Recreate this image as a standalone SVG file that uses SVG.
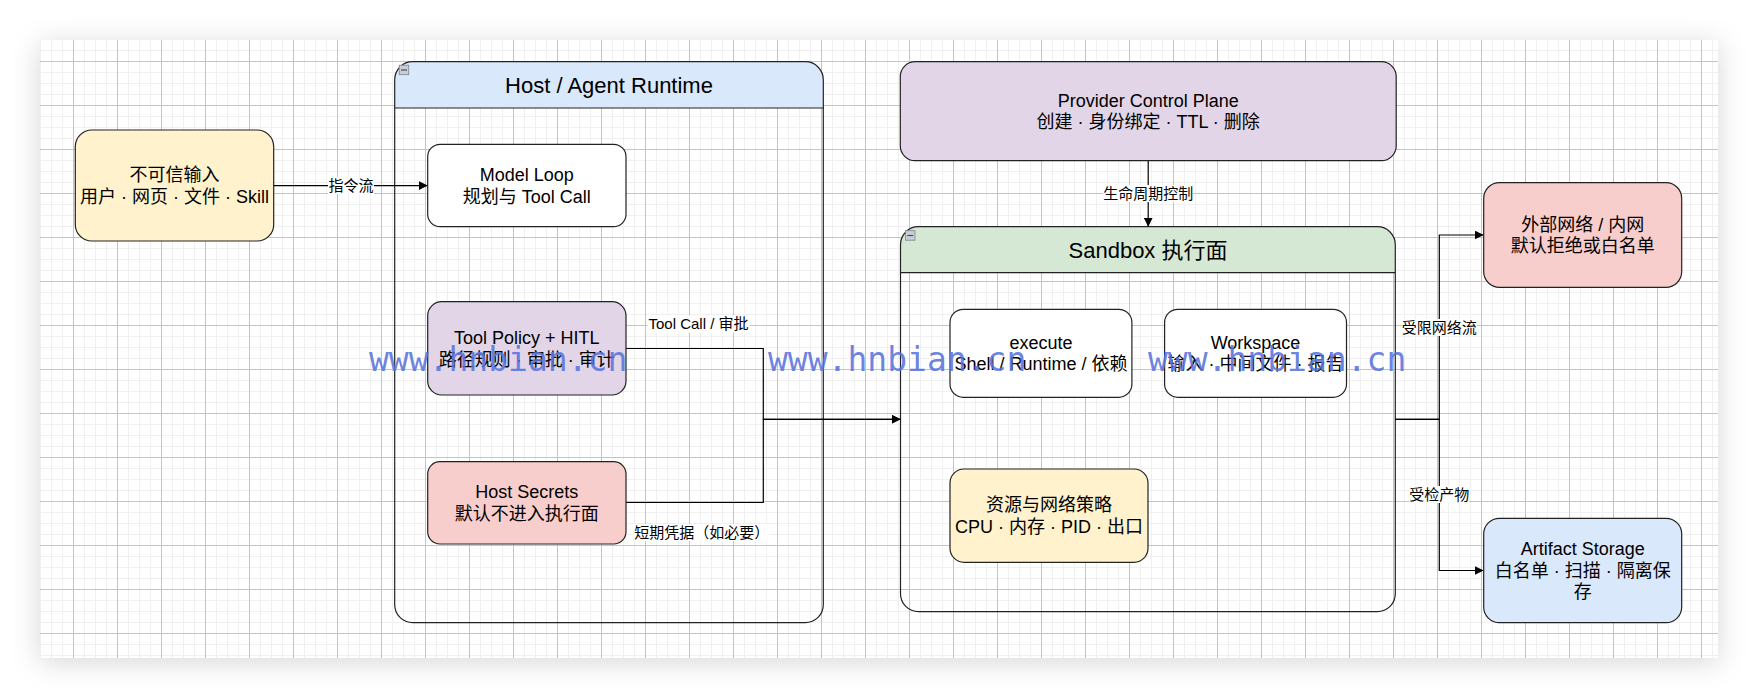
<svg xmlns="http://www.w3.org/2000/svg" width="1758" height="698" viewBox="0 0 1758 698">
<style>
.box{stroke:#222;stroke-width:1.2}
.cont{fill:none;stroke:#222;stroke-width:1.2}
.t{font-family:"Liberation Sans","Noto Sans CJK SC",sans-serif;font-size:18px;fill:#000;text-anchor:middle}
.title{font-size:22px}
.lbl{font-size:15px}
.lblbg{fill:#fff}
.edge{fill:none;stroke:#000;stroke-width:1.2}
.wm{font-family:"DejaVu Sans Mono","Liberation Mono",monospace;font-size:33px;fill:#5a74dc;fill-opacity:0.9}
.icon{fill:#c9cdd5;stroke:#7d8490;stroke-width:0.8}
</style>
<defs>
<pattern id="grid" patternUnits="userSpaceOnUse" x="29" y="17" width="44" height="44">
<rect width="44" height="44" fill="#fff"/>
<rect x="11" y="0" width="1" height="44" fill="#f0f0f0"/>
<rect x="22" y="0" width="1" height="44" fill="#f0f0f0"/>
<rect x="33" y="0" width="1" height="44" fill="#f0f0f0"/>
<rect x="0" y="11" width="44" height="1" fill="#f0f0f0"/>
<rect x="0" y="22" width="44" height="1" fill="#f0f0f0"/>
<rect x="0" y="33" width="44" height="1" fill="#f0f0f0"/>
<rect x="0" y="0" width="1" height="44" fill="#c4c4c4"/>
<rect x="0" y="0" width="44" height="1" fill="#c4c4c4"/>
</pattern>
<filter id="shadow" x="-10%" y="-10%" width="120%" height="125%">
<feGaussianBlur stdDeviation="14"/>
</filter>
<marker id="arrow" viewBox="0 0 10 10" refX="10" refY="5" markerWidth="9" markerHeight="9" markerUnits="userSpaceOnUse" orient="auto">
<path d="M0,0 L10,5 L0,10 Z" fill="#000"/>
</marker>
</defs>

<rect width="1758" height="698" fill="#fff"/>
<rect x="40" y="44" width="1678" height="618" fill="#000" fill-opacity="0.16" filter="url(#shadow)"/>
<rect x="40" y="40" width="1678" height="618" fill="url(#grid)"/>

<g id="host-runtime">
<path d="M394.7,108 V79.7 A18,18 0 0 1 412.7,61.7 H805.3 A18,18 0 0 1 823.3,79.7 V108 Z" fill="#dae8fc"/>
<rect class="cont" x="394.7" y="61.7" width="428.6" height="561" rx="18" ry="18"/>
<line x1="394.7" y1="108" x2="823.3" y2="108" stroke="#222" stroke-width="1.2"/>
<rect class="icon" x="399.2" y="65.2" width="9.5" height="9.5"/>
<line x1="401" y1="70" x2="407" y2="70" stroke="#4a4f58" stroke-width="1.2"/>
<text class="t title" x="609" y="92.7">Host / Agent Runtime</text>
</g>

<g id="sandbox">
<path d="M900.5,272.7 V244.7 A18,18 0 0 1 918.5,226.7 H1377.3 A18,18 0 0 1 1395.3,244.7 V272.7 Z" fill="#d5e8d4"/>
<rect class="cont" x="900.5" y="226.7" width="494.8" height="385" rx="18" ry="18"/>
<line x1="900.5" y1="272.7" x2="1395.3" y2="272.7" stroke="#222" stroke-width="1.2"/>
<rect class="icon" x="905.5" y="230.7" width="9.5" height="9.5"/>
<line x1="907.3" y1="235.5" x2="913.2" y2="235.5" stroke="#4a4f58" stroke-width="1.2"/>
<text class="t title" x="1148" y="257.6">Sandbox 执行面</text>
</g>

<g id="connectors">
<path class="edge" d="M273.7,185.6 H427.7" marker-end="url(#arrow)"/>
<path class="edge" d="M626,348.5 H763.3 V419.3 H900.5" marker-end="url(#arrow)"/>
<path class="edge" d="M626,502.5 H763.3 V419.3 H900.5" marker-end="url(#arrow)"/>
<path class="edge" d="M1148.2,160.7 V226.7" marker-end="url(#arrow)"/>
<path class="edge" d="M1395.3,419.3 H1439.3 V235 H1483.7" marker-end="url(#arrow)"/>
<path class="edge" d="M1395.3,419.3 H1439.3 V570.5 H1483.7" marker-end="url(#arrow)"/>
<rect class="lblbg" x="328" y="177" width="46" height="17"/>
<text class="t lbl" x="351" y="191">指令流</text>
<rect class="lblbg" x="1103" y="185" width="90" height="17"/>
<text class="t lbl" x="1148.2" y="199">生命周期控制</text>
<rect class="lblbg" x="647.5" y="315.5" width="102" height="17"/>
<text class="t lbl" x="698.5" y="329.4">Tool Call / 审批</text>
<rect class="lblbg" x="634" y="524" width="135" height="17"/>
<text class="t lbl" x="701.7" y="537.7">短期凭据（如必要）</text>
<rect class="lblbg" x="1401.8" y="319" width="75" height="17"/>
<text class="t lbl" x="1439.3" y="332.7">受限网络流</text>
<rect class="lblbg" x="1409.3" y="486" width="60" height="17"/>
<text class="t lbl" x="1439.3" y="500">受检产物</text>
</g>

<g id="untrusted-input">
<rect class="box" x="75.3" y="130" width="198.4" height="111" rx="16.6" fill="#fff2cc"/>
<text class="t" x="174.5" y="181">不可信输入</text>
<text class="t" x="174.5" y="202.5">用户 · 网页 · 文件 · Skill</text>
</g>

<g id="model-loop">
<rect class="box" x="427.7" y="144.3" width="198.3" height="82.4" rx="12.4" fill="#fff"/>
<text class="t" x="526.8" y="181">Model Loop</text>
<text class="t" x="526.8" y="202.5">规划与 Tool Call</text>
</g>

<g id="tool-policy">
<rect class="box" x="427.7" y="301.7" width="198.3" height="93.3" rx="14" fill="#e1d5e7"/>
<text class="t" x="526.8" y="344">Tool Policy + HITL</text>
<text class="t" x="526.8" y="365.5">路径规则 · 审批 · 审计</text>
</g>

<g id="host-secrets">
<rect class="box" x="427.7" y="461.7" width="198.3" height="82.3" rx="12.3" fill="#f8cecc"/>
<text class="t" x="526.8" y="498.4">Host Secrets</text>
<text class="t" x="526.8" y="519.9">默认不进入执行面</text>
</g>

<g id="provider-control-plane">
<rect class="box" x="900.3" y="61.7" width="495.9" height="99" rx="14.9" fill="#e1d5e7"/>
<text class="t" x="1148.2" y="106.7">Provider Control Plane</text>
<text class="t" x="1148.2" y="128.2">创建 · 身份绑定 · TTL · 删除</text>
</g>

<g id="execute">
<rect class="box" x="950" y="309.3" width="181.9" height="88" rx="13.2" fill="#fff"/>
<text class="t" x="1041" y="348.9">execute</text>
<text class="t" x="1041" y="370.4">Shell / Runtime / 依赖</text>
</g>

<g id="workspace">
<rect class="box" x="1164.6" y="309.3" width="181.9" height="88" rx="13.2" fill="#fff"/>
<text class="t" x="1255.5" y="348.9">Workspace</text>
<text class="t" x="1255.5" y="370.4">输入 · 中间文件 · 报告</text>
</g>

<g id="resource-policy">
<rect class="box" x="950" y="469" width="198" height="93.3" rx="14" fill="#fff2cc"/>
<text class="t" x="1049" y="511.2">资源与网络策略</text>
<text class="t" x="1049" y="532.7">CPU · 内存 · PID · 出口</text>
</g>

<g id="external-network">
<rect class="box" x="1483.7" y="182.7" width="198" height="104.6" rx="15.7" fill="#f8cecc"/>
<text class="t" x="1582.7" y="230.5">外部网络 / 内网</text>
<text class="t" x="1582.7" y="252">默认拒绝或白名单</text>
</g>

<g id="artifact-storage">
<rect class="box" x="1483.7" y="518.3" width="198" height="104.4" rx="15.7" fill="#dae8fc"/>
<text class="t" x="1582.7" y="555.3">Artifact Storage</text>
<text class="t" x="1582.7" y="576.8">白名单 · 扫描 · 隔离保</text>
<text class="t" x="1582.7" y="598.3">存</text>
</g>

<g id="watermark">
<text class="wm" x="369" y="371">www.hnbian.cn</text>
<text class="wm" x="768" y="371">www.hnbian.cn</text>
<text class="wm" x="1148" y="371">www.hnbian.cn</text>
</g>
</svg>
